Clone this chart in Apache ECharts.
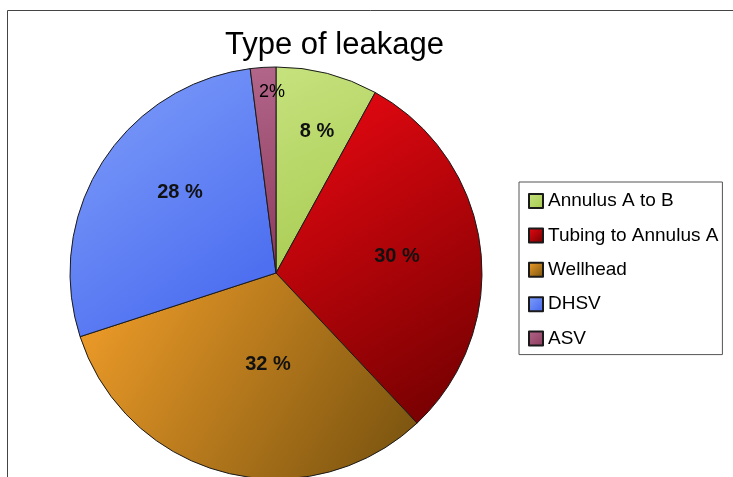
<!DOCTYPE html>
<html>
<head>
<meta charset="utf-8">
<title>Type of leakage</title>
<script src="https://cdn.jsdelivr.net/npm/echarts@6/dist/echarts.min.js"></script>
<style>
  html, body { margin: 0; padding: 0; background: #fff; }
  #chart-container { width: 733px; height: 477px; }
</style>
</head>
<body>
<div id="chart-container"></div>
<script>
var categories = ['Annulus A to B', 'Tubing to Annulus A', 'Wellhead', 'DHSV', 'ASV'];
var shares = [8, 30, 32, 28, 2];

// light / dark end of each slice gradient
var lightColors = ['#c6e27e', '#ee0812', '#f5a02a', '#819ffa', '#b2668a'];
var darkColors = ['#a6ca4e', '#6e0000', '#74500e', '#4265ee', '#8c3a5c'];

// label placement: fraction of radius, and angle nudge in degrees
var labelRadius = [0.717, 0.593, 0.448, 0.607, 0.879];
var labelTurn = [1.7, -0.8, -9.4, 7.4, 2.3];

var cx = 276, cy = 273, R = 206;

var dom = document.getElementById('chart-container');
var myChart = echarts.init(dom, null, { renderer: 'canvas' });

var data = categories.map(function (name, i) {
  return {
    name: name,
    value: shares[i],
    itemStyle: {
      color: new echarts.graphic.LinearGradient(0, 0, 1, 1, [
        { offset: 0, color: lightColors[i] },
        { offset: 1, color: darkColors[i] }
      ])
    },
    label: i === 4 ? { fontSize: 18, fontWeight: 'normal', color: '#000' } : {}
  };
});

var option = {
  animation: false,
  title: {
    text: 'Type of leakage',
    left: 220,
    top: 25,
    textStyle: {
      fontFamily: 'Liberation Sans',
      fontSize: 31,
      fontWeight: 'normal',
      color: '#000'
    }
  },
  legend: {
    orient: 'vertical',
    left: 519,
    top: 182,
    padding: [9, 4, 6, 9],
    itemGap: 14.4,
    itemWidth: 14,
    itemHeight: 14,
    itemTextGap: 9,
    icon: 'rect',
    borderColor: '#555',
    borderWidth: 1,
    selectedMode: false,
    textStyle: {
      fontFamily: 'Liberation Sans',
      fontSize: 19,
      lineHeight: 20,
      color: '#000'
    },
    data: categories
  },
  graphic: [{
    type: 'polyline',
    shape: { points: [[7.5, 477], [7.5, 10.5], [733, 10.5]] },
    style: { stroke: '#444', lineWidth: 1, fill: null },
    silent: true
  }],
  series: [{
    name: 'Type of leakage',
    type: 'pie',
    center: [cx, cy],
    radius: [0, R],
    startAngle: 90,
    clockwise: true,
    avoidLabelOverlap: false,
    emphasis: { disabled: true },
    itemStyle: { borderColor: '#1a1a1a', borderWidth: 1 },
    label: {
      show: true,
      position: 'inside',
      fontFamily: 'Liberation Sans',
      fontSize: 20,
      fontWeight: 'bold',
      color: '#111',
      formatter: function (p) {
        return p.value + (p.value < 5 ? '%' : ' %');
      }
    },
    labelLine: { show: false },
    labelLayout: function (params) {
      var i = params.dataIndex;
      var r = params.labelRect;
      var mx = r.x + r.width / 2;
      var my = r.y + r.height / 2;
      var a = Math.atan2(mx - cx, cy - my) + labelTurn[i] * Math.PI / 180;
      var d = labelRadius[i] * R;
      return {
        dx: cx + d * Math.sin(a) - mx,
        dy: cy - d * Math.cos(a) - my
      };
    },
    data: data
  }]
};

myChart.setOption(option);
window.addEventListener('resize', myChart.resize);
</script>
</body>
</html>
